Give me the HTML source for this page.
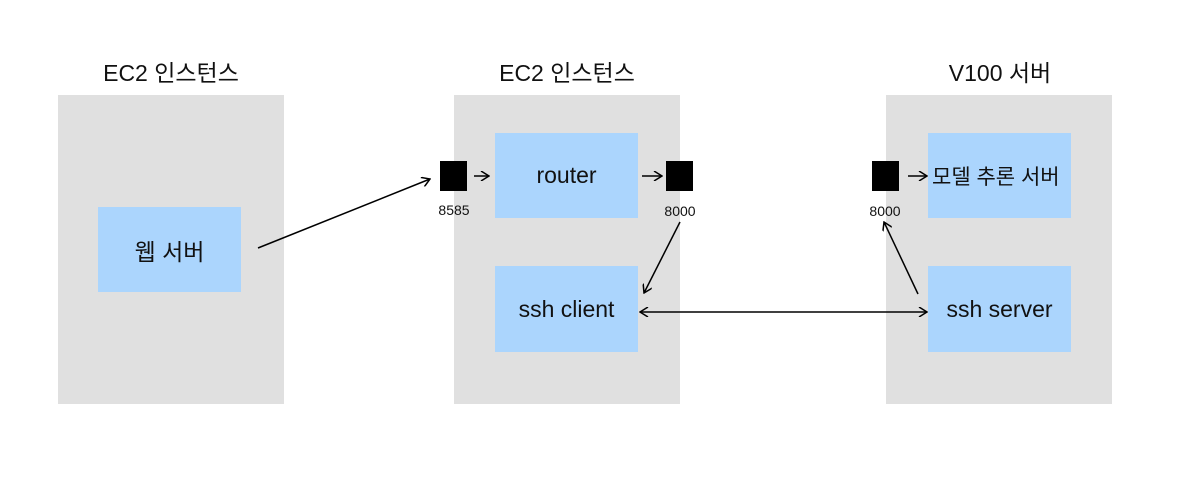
<!DOCTYPE html>
<html><head><meta charset="utf-8"><style>
body{margin:0;width:1191px;height:486px;background:#fff;position:relative;overflow:hidden;font-family:"Liberation Sans","Noto Sans CJK KR",sans-serif;color:#111}
.p{position:absolute;background:#e0e0e0}
.b{position:absolute;background:#abd5fd;display:flex;align-items:center;justify-content:center;font-size:23px}
.t{position:absolute;font-size:23px;text-align:center;width:260px}
.s{position:absolute;background:#000;width:27px;height:30px}
.l{position:absolute;font-size:14px;width:60px;text-align:center}
</style></head><body>
<div class="t" style="left:41px;top:54px">EC2 인스턴스</div>
<div class="t" style="left:437px;top:54px">EC2 인스턴스</div>
<div class="t" style="left:870px;top:54px">V100 서버</div>
<div class="p" style="left:58px;top:95px;width:226px;height:309px"></div>
<div class="p" style="left:454px;top:95px;width:226px;height:309px"></div>
<div class="p" style="left:886px;top:95px;width:226px;height:309px"></div>
<div class="b" style="left:98px;top:207px;width:143px;height:85px">웹 서버</div>
<div class="b" style="left:495px;top:133px;width:143px;height:85px">router</div>
<div class="b" style="left:495px;top:266px;width:143px;height:86px">ssh client</div>
<div class="b" style="left:928px;top:133px;width:143px;height:85px;justify-content:flex-start;padding-left:4px;box-sizing:border-box;font-size:21px">모델 추론 서버</div>
<div class="b" style="left:928px;top:266px;width:143px;height:86px">ssh server</div>
<div class="s" style="left:440px;top:161px"></div>
<div class="s" style="left:666px;top:161px"></div>
<div class="s" style="left:872px;top:161px"></div>
<div class="l" style="left:424px;top:202px">8585</div>
<div class="l" style="left:650px;top:203px">8000</div>
<div class="l" style="left:855px;top:203px">8000</div>
<svg width="1191" height="486" style="position:absolute;left:0;top:0">
<defs><marker id="a" markerWidth="10" markerHeight="10" refX="9" refY="5" orient="auto-start-reverse" markerUnits="userSpaceOnUse"><path d="M1,0 L9,5 L1,10" fill="none" stroke="#000" stroke-width="1.5"/></marker></defs>
<g stroke="#000" stroke-width="1.5" fill="none">
<line x1="258" y1="248" x2="430" y2="179" marker-end="url(#a)"/>
<line x1="474" y1="176" x2="489" y2="176" marker-end="url(#a)"/>
<line x1="642" y1="176" x2="662" y2="176" marker-end="url(#a)"/>
<line x1="908" y1="176" x2="927" y2="176" marker-end="url(#a)"/>
<line x1="680" y1="222" x2="644" y2="293" marker-end="url(#a)"/>
<line x1="640" y1="312" x2="927" y2="312" marker-start="url(#a)" marker-end="url(#a)"/>
<line x1="918" y1="294" x2="884" y2="222" marker-end="url(#a)"/>
</g></svg>
</body></html>
